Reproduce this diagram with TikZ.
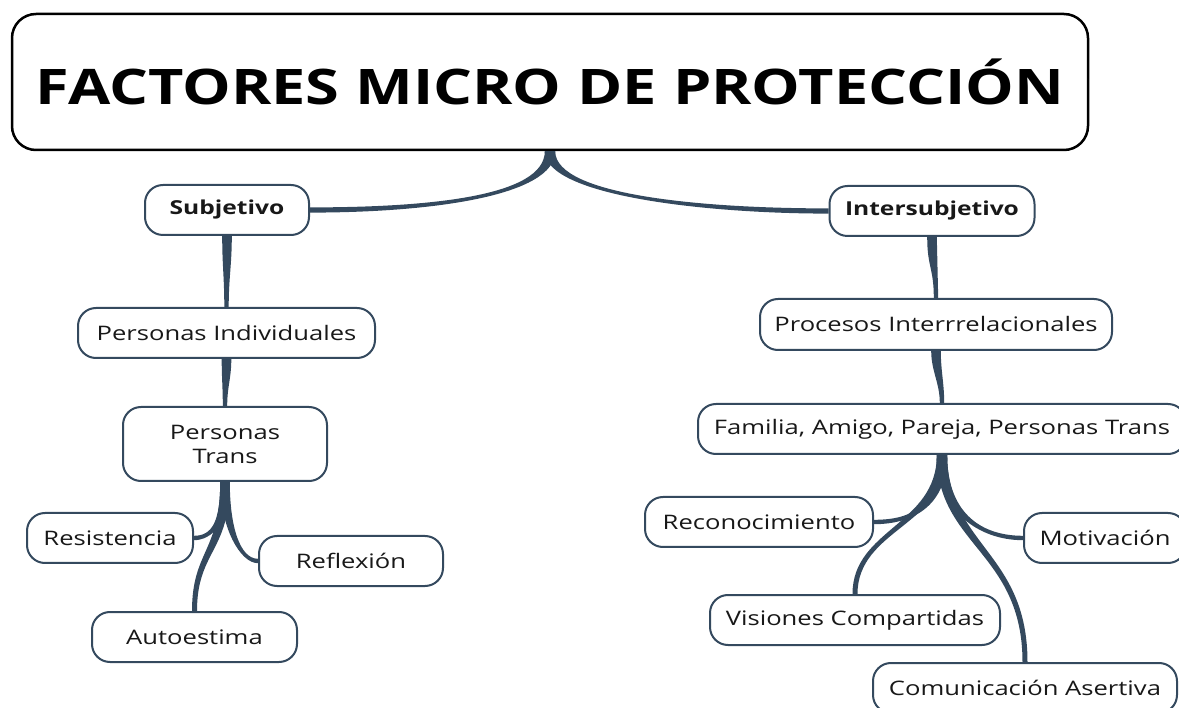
\documentclass[tikz,border=0pt]{standalone}
\usepackage{fontspec}
\setmainfont{Open Sans}[FakeStretch=1.25]
\newfontfamily\nodefont{Open Sans}[FakeStretch=1.28]
\usetikzlibrary{calc}
\definecolor{slate}{HTML}{34495E}
\definecolor{txt}{HTML}{181818}
\tikzset{
  box/.style={draw=slate, line width=2pt, rounded corners=18pt, fill=white, text=txt,
    font=\nodefont\fontsize{20}{24}\selectfont, minimum height=50pt, inner sep=0pt, align=center},
  boldbox/.style={box, font=\nodefont\fontsize{19.2}{24}\selectfont\bfseries},
  titlebox/.style={draw=black, line width=2.5pt, rounded corners=24pt, fill=white, text=black,
    font=\fontsize{49}{56}\selectfont\bfseries, minimum width=1076pt, minimum height=136pt, inner sep=0pt},
  conn/.style={fill=slate, draw=none}
}
% tapered connector: start, end, start control offset, end control offset, start half-width vector, end half-width vector
\newcommand\taper[6]{%
  \fill[conn] ($(#1)+(#5)$) .. controls ($(#1)+(#3)+(#5)$) and ($(#2)+(#4)+(#6)$) .. ($(#2)+(#6)$)
    -- ($(#2)-(#6)$) .. controls ($(#2)+(#4)-(#6)$) and ($(#1)+(#3)-(#5)$) .. ($(#1)-(#5)$) -- cycle;}
\begin{document}
\begin{tikzpicture}[x=1pt, y=-1pt]
\useasboundingbox (0,0) rectangle (1179,708);
% nodes
\node[titlebox] (title) at (550,82) {FACTORES MICRO DE PROTECCIÓN};
\node[boldbox, minimum width=164pt] (subj) at (227,210) {Subjetivo};
\node[boldbox, minimum width=205pt] (inter) at (932,211) {Intersubjetivo};
\node[box, minimum width=297pt] (pind) at (226.5,333) {Personas Individuales};
\node[box, minimum width=352pt, minimum height=51pt] (proc) at (936,324.5) {Procesos Interrrelacionales};
\node[box, minimum width=204pt, minimum height=74pt] (ptrans) at (225,444) {Personas\\Trans};
\node[box, minimum width=488pt] (fam) at (942,429) {Familia, Amigo, Pareja, Personas Trans};
\node[box, minimum width=166pt] (resist) at (110,538) {Resistencia};
\node[box, minimum width=184pt] (reflex) at (351,561) {Reflexión};
\node[box, minimum width=205pt] (auto) at (194.5,637) {Autoestima};
\node[box, minimum width=228pt] (recon) at (759,522) {Reconocimiento};
\node[box, minimum width=162pt] (motiv) at (1105,538) {Motivación};
\node[box, minimum width=290pt] (vis) at (855,620) {Visiones Compartidas};
\node[box, minimum width=304pt] (comm) at (1025,688) {Comunicación Asertiva};
% connectors
\taper{title.south}{subj.east}{0,45}{120,0}{5.2,0}{0,2.6}
\taper{title.south}{inter.west}{0,45}{-120,0}{5.2,0}{0,-2.6}
\taper{subj.south}{pind.north}{0,30}{0,-30}{4.8,0}{2.2,0}
\taper{inter.south}{proc.north}{0,30}{0,-30}{4.8,0}{2.2,0}
\taper{pind.south}{ptrans.north}{0,20}{0,-20}{4.8,0}{2.2,0}
\taper{proc.south}{fam.north}{0,20}{0,-20}{4.8,0}{2.2,0}
\taper{ptrans.south}{resist.east}{0,40}{18,0}{4.8,0}{0,2.2}
\taper{ptrans.south}{reflex.west}{0,45}{-18,0}{4.8,0}{0,-2.2}
\taper{ptrans.south}{auto.north}{0,70}{0,-60}{4.8,0}{2.5,0}
\taper{fam.south}{recon.east}{0,50}{40,0}{5.2,0}{0,2.2}
\taper{fam.south}{motiv.west}{0,55}{-45,0}{5.2,0}{0,-2.2}
\taper{fam.south}{vis.north}{0,70}{0,-65}{5.2,0}{2.5,0}
\taper{fam.south}{comm.north}{0,90}{0,-110}{5.2,0}{2.5,0}
\end{tikzpicture}
\end{document}
